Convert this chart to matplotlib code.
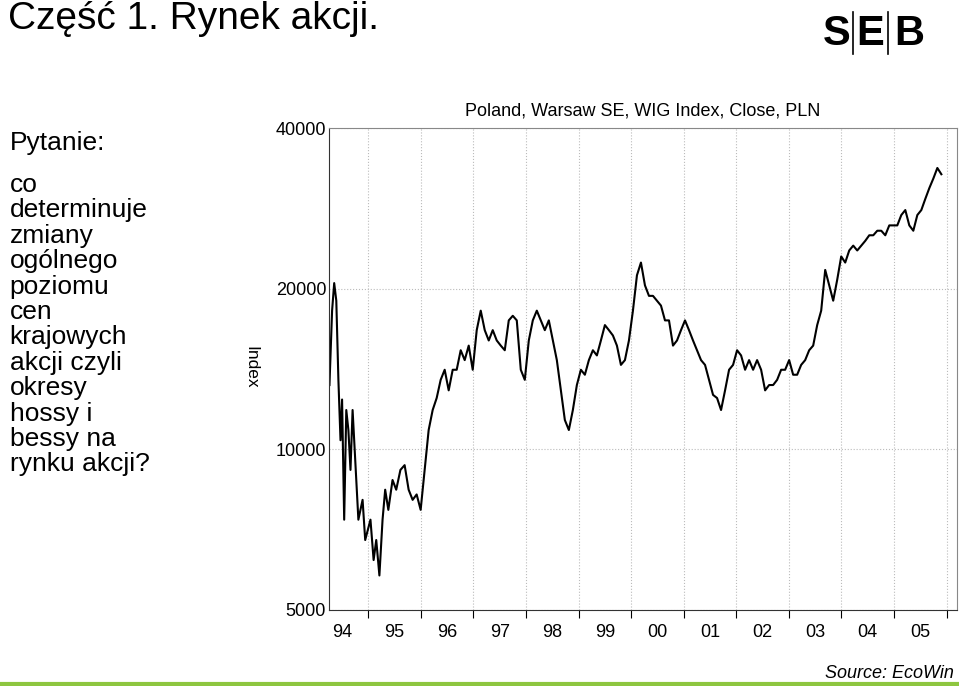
import numpy as np
import matplotlib
matplotlib.use("Agg")
import matplotlib.pyplot as plt
from matplotlib.ticker import FixedLocator, NullFormatter, NullLocator

plt.rcParams['font.family'] = ['Liberation Sans', 'DejaVu Sans']

early_years = [1994.26, 1994.31, 1994.35, 1994.39, 1994.43, 1994.47, 1994.50, 1994.54,
               1994.58, 1994.62, 1994.66, 1994.70, 1994.75, 1994.81, 1994.89, 1994.94,
               1995.04, 1995.10, 1995.15, 1995.21, 1995.27, 1995.32, 1995.38, 1995.46,
               1995.53, 1995.61]
early_values = [13200, 18200, 20500, 19000, 13500, 10400, 12400, 7380, 11850, 10870,
                9150, 11850, 9550, 7380, 8040, 6760, 7380, 6200, 6760, 5800, 7380, 8400,
                7700, 8760, 8400, 9150]
late_start = 1995.69
late_step = 0.0762
late_values = [9340, 8400, 8040, 8230, 7700, 9150, 10870, 11850, 12480, 13500, 14100,
               12900, 14100, 14100, 15340, 14700, 15650, 14100, 16730, 18200, 16730, 16000,
               16730, 16000, 15650, 15340, 17450, 17800, 17450, 14100, 13500, 16000, 17450,
               18200, 17450, 16730, 17450, 16000, 14700, 12900, 11350, 10870, 11850, 13200,
               14100, 13800, 14700, 15340, 15000, 16000, 17100, 16730, 16350, 15650, 14400,
               14700, 16000, 18200, 21200, 22400, 20300, 19400, 19400, 19000, 18600, 17450,
               17450, 15650, 16000, 16730, 17450, 16730, 16000, 15340, 14700, 14400, 13500,
               12650, 12480, 11850, 12900, 14100, 14400, 15340, 15000, 14100, 14700, 14100,
               14700, 14100, 12900, 13200, 13200, 13500, 14100, 14100, 14700, 13800, 13800,
               14400, 14700, 15340, 15650, 17100, 18200, 21700, 20300, 19000, 20800, 23000,
               22400, 23600, 24100, 23600, 24100, 24600, 25200, 25200, 25700, 25700, 25200,
               26300, 26300, 26300, 27500, 28100, 26300, 25700, 27500, 28100, 29500, 30900,
               32200, 33700, 32800]
year_labels = ['94', '95', '96', '97', '98', '99', '00', '01', '02', '03', '04', '05']
y_ticks = [5000, 10000, 20000, 40000]

late_years = late_start + late_step * np.arange(len(late_values))
years = np.concatenate([early_years, late_years])
values = np.concatenate([early_values, late_values])

fig = plt.figure(figsize=(9.59, 6.86), dpi=100)
ax = fig.add_axes([0.343, 0.111, 0.655, 0.702])
ax.plot(years, values, color='black', lw=1.5)
ax.set_yscale('log')
ax.set_ylim(5000, 40000)
ax.set_xlim(1994.25, 2006.2)
ax.yaxis.set_major_locator(FixedLocator(y_ticks))
ax.yaxis.set_minor_locator(NullLocator())
ax.set_yticklabels([str(v) for v in y_ticks], fontsize=13)
ax.yaxis.set_minor_formatter(NullFormatter())
ax.set_xticks(np.arange(1995, 2007))
ax.set_xticklabels([])
ax.set_xticks(np.arange(1994.5, 2006, 1.0), minor=True)
ax.set_xticklabels(year_labels, minor=True, fontsize=13)
ax.tick_params(axis='x', which='major', length=6, direction='out', color='black')
ax.tick_params(axis='x', which='minor', length=0, pad=10)
ax.tick_params(axis='y', length=0, pad=2)
ax.grid(True, which='major', color='#bbbbbb', linestyle=':', lw=0.8)
for s in ['top', 'right']:
    ax.spines[s].set_color('#888888')
    ax.spines[s].set_linewidth(0.8)
ax.spines['left'].set_color('#333333')
ax.spines['bottom'].set_color('#333333')
ax.set_title('Poland, Warsaw SE, WIG Index, Close, PLN', fontsize=13, pad=9)
fig.text(0.262, 0.465, 'Index', rotation=270, fontsize=12.5, ha='center', va='center')

fig.text(0.008, 0.999, 'Część 1. Rynek akcji.', fontsize=28, ha='left', va='top')
fig.text(0.010, 0.791, 'Pytanie:', fontsize=19, ha='left', va='center')
lines = ['co', 'determinuje', 'zmiany', 'ogólnego', 'poziomu', 'cen', 'krajowych',
         'akcji czyli', 'okresy', 'hossy i', 'bessy na', 'rynku akcji?']
for i, t in enumerate(lines):
    fig.text(0.010, 1 - (185 + i * 25.4) / 686, t, fontsize=19, ha='left', va='center')

fig.text(0.995, 0.018, 'Source: EcoWin', fontsize=13, style='italic', ha='right', va='center')
fig.add_artist(plt.Line2D([0, 1], [0.003, 0.003], color='#8dc63f', lw=3, transform=fig.transFigure))

# SEB logo
for xc, ch in zip([0.872, 0.907, 0.948], ['S', 'E', 'B']):
    fig.text(xc, 0.95, ch, fontsize=30, fontweight='bold', ha='center', va='center')
for xb in [0.889, 0.926]:
    fig.add_artist(plt.Line2D([xb, xb], [0.922, 0.982], color='black', lw=1.2, transform=fig.transFigure))

fig.savefig('out.png', dpi=100)
